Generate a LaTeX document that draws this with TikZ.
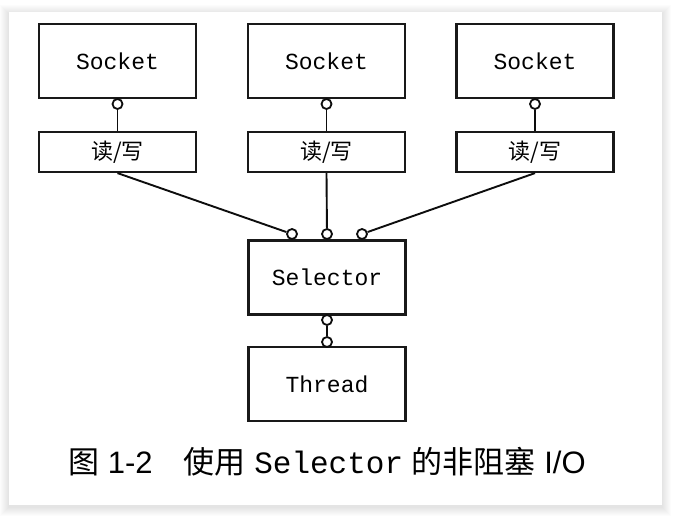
\documentclass[tikz,border=0pt]{standalone}
\usepackage{fontspec}
\setmainfont{Liberation Sans}
\setmonofont{Liberation Mono}
\newfontfamily\cjk{Noto Sans CJK SC}
\begin{document}
\begin{tikzpicture}[x=1pt,y=-1pt,
  box/.style={draw=black!90, line width=2.2pt, fill=white, inner sep=0pt,
    minimum width=157pt, font=\ttfamily\fontsize{23}{27}\selectfont},
  tall/.style={box, minimum height=74pt},
  rw/.style={box, minimum height=40pt, font=\cjk\fontsize{22}{26}\selectfont},
  circ/.style={circle, draw=black!95, line width=1.8pt, fill=white, inner sep=0pt, minimum size=10pt},
  wire/.style={draw=black!95, line width=1.9pt}]
\useasboundingbox (0,0) rectangle (674,518);
\fill[white] (0,0) rectangle (674,518);
% card shadow
\foreach \i in {1,...,9}{
  \fill[black, opacity=0.012] (9-\i,12-\i+2) rectangle (662+\i,505+\i+2);
}
\fill[white] (9,12) rectangle (662,505);
% sockets
\node[tall] (s1) at (117.5,61) {Socket};
\node[tall] (s2) at (326.5,61) {Socket};
\node[tall] (s3) at (535,61) {Socket};
% read/write
\node[rw] (r1) at (117.5,152) {读/写};
\node[rw] (r2) at (326.5,152) {读/写};
\node[rw] (r3) at (535,152) {读/写};
% selector and thread
\node[tall] (sel) at (327,277.5) {Selector};
\node[tall] (th) at (327,384) {Thread};
% circles
\node[circ] (c1) at (117.5,104) {};
\node[circ] (c2) at (326.5,104) {};
\node[circ] (c3) at (535,104) {};
\node[circ] (k1) at (292,234) {};
\node[circ] (k2) at (327,234) {};
\node[circ] (k3) at (362,234) {};
\node[circ] (t1) at (327,320) {};
\node[circ] (t2) at (327,342) {};
% wires
\draw[wire] (c1) -- (r1.north);
\draw[wire] (c2) -- (r2.north);
\draw[wire] (c3) -- (r3.north);
\draw[wire] (r1.south) -- (k1);
\draw[wire] (r2.south) -- (k2);
\draw[wire] (r3.south) -- (k3);
\draw[wire] (t1) -- (t2);
% caption
\node[font=\fontsize{31}{35}\selectfont, inner sep=0pt] (cap) at (327,462)
  {{\cjk 图} 1-2\hspace{1em}{\cjk 使用} {\ttfamily Selector} {\cjk 的非阻塞} I/O};
\end{tikzpicture}
\end{document}
